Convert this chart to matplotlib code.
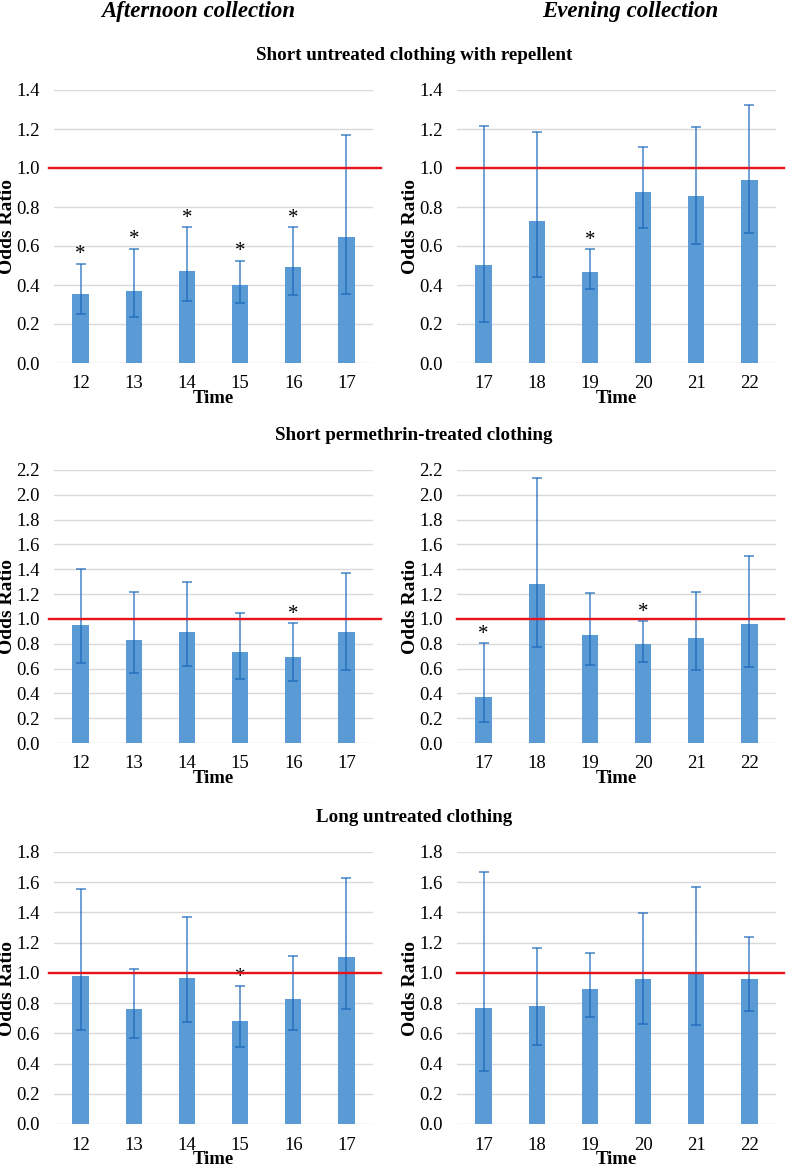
import numpy as np
import matplotlib
matplotlib.use('Agg')
import matplotlib.pyplot as plt

plt.rcParams['font.family'] = ['Liberation Serif', 'DejaVu Serif']

# hours
aft_hours = ['12', '13', '14', '15', '16', '17']
eve_hours = ['17', '18', '19', '20', '21', '22']

# short untreated clothing with repellent
aft_rep_or = [0.354, 0.371, 0.472, 0.400, 0.493, 0.644]
aft_rep_lo = [0.250, 0.236, 0.320, 0.306, 0.349, 0.354]
aft_rep_hi = [0.510, 0.587, 0.695, 0.525, 0.698, 1.171]
aft_rep_sig = [1, 1, 1, 1, 1, 0]
eve_rep_or = [0.505, 0.726, 0.467, 0.875, 0.857, 0.940]
eve_rep_lo = [0.210, 0.443, 0.378, 0.693, 0.608, 0.669]
eve_rep_hi = [1.213, 1.184, 0.585, 1.107, 1.210, 1.325]
eve_rep_sig = [0, 0, 1, 0, 0, 0]

# short permethrin-treated clothing
aft_perm_or = [0.949, 0.828, 0.898, 0.734, 0.694, 0.896]
aft_perm_lo = [0.645, 0.567, 0.624, 0.519, 0.503, 0.592]
aft_perm_hi = [1.404, 1.213, 1.294, 1.046, 0.968, 1.366]
aft_perm_sig = [0, 0, 0, 0, 1, 0]
eve_perm_or = [0.371, 1.283, 0.871, 0.799, 0.845, 0.957]
eve_perm_lo = [0.172, 0.772, 0.632, 0.654, 0.589, 0.616]
eve_perm_hi = [0.807, 2.136, 1.205, 0.984, 1.218, 1.503]
eve_perm_sig = [1, 0, 0, 1, 0, 0]

# long untreated clothing
aft_long_or = [0.980, 0.761, 0.964, 0.683, 0.826, 1.108]
aft_long_lo = [0.622, 0.571, 0.677, 0.509, 0.619, 0.760]
aft_long_hi = [1.553, 1.024, 1.373, 0.914, 1.113, 1.630]
aft_long_sig = [0, 0, 0, 1, 0, 0]
eve_long_or = [0.767, 0.780, 0.894, 0.961, 1.009, 0.961]
eve_long_lo = [0.352, 0.522, 0.707, 0.665, 0.657, 0.749]
eve_long_hi = [1.670, 1.165, 1.132, 1.395, 1.569, 1.236]
eve_long_sig = [0, 0, 0, 0, 0, 0]

row_titles = ['Short untreated clothing with repellent',
              'Short permethrin-treated clothing',
              'Long untreated clothing']
row_ymax = [1.4, 2.2, 1.8]

panels = [
    [(aft_hours, aft_rep_or, aft_rep_lo, aft_rep_hi, aft_rep_sig),
     (eve_hours, eve_rep_or, eve_rep_lo, eve_rep_hi, eve_rep_sig)],
    [(aft_hours, aft_perm_or, aft_perm_lo, aft_perm_hi, aft_perm_sig),
     (eve_hours, eve_perm_or, eve_perm_lo, eve_perm_hi, eve_perm_sig)],
    [(aft_hours, aft_long_or, aft_long_lo, aft_long_hi, aft_long_sig),
     (eve_hours, eve_long_or, eve_long_lo, eve_long_hi, eve_long_sig)],
]

W, H = 787, 1168
fig = plt.figure(figsize=(W / 100, H / 100), dpi=100)

col_left = [54, 457]
ax_w = 319
row_top = [90, 470, 852]
row_bot = [363, 743, 1124]
title_y = [55, 435, 818]

bar_color = '#5B9BD5'
err_color = '#1A66BA'

for r in range(3):
    fig.text(414 / W, 1 - title_y[r] / H, row_titles[r], ha='center', va='center',
             fontsize=13.7, fontweight='bold')
    for c in range(2):
        hours, odds, lo, hi, sig = panels[r][c]
        odds = np.array(odds); lo = np.array(lo); hi = np.array(hi)
        ax = fig.add_axes([col_left[c] / W, 1 - row_bot[r] / H,
                           ax_w / W, (row_bot[r] - row_top[r]) / H])
        x = np.arange(len(hours))
        ax.bar(x, odds, width=0.31, color=bar_color, zorder=2)
        ax.errorbar(x, odds, yerr=[odds - lo, hi - odds], fmt='none',
                    ecolor=err_color, alpha=0.8, elinewidth=1.1,
                    capsize=3.5, capthick=1.1, zorder=3)
        for i in range(len(hours)):
            if sig[i]:
                ax.annotate('*', (x[i], hi[i]), xytext=(0, 3),
                            textcoords='offset points', ha='center',
                            va='baseline', fontsize=15)
        ax.axhline(1.0, xmin=-0.016 if c == 0 else 0.0, xmax=1.025,
                   color='#E8141B', lw=1.7, clip_on=False, zorder=4)
        ymax = row_ymax[r]
        ax.set_ylim(0, ymax)
        ax.set_xlim(-0.5, len(hours) - 0.5)
        ax.set_yticks(np.round(np.arange(0, ymax + 0.001, 0.2), 1))
        ax.yaxis.set_major_formatter(matplotlib.ticker.FormatStrFormatter('%.1f'))
        ax.set_xticks(x)
        ax.set_xticklabels(hours)
        ax.grid(axis='y', color='#D9D9D9', lw=1.0, zorder=0)
        ax.set_axisbelow(True)
        for s in ax.spines.values():
            s.set_visible(False)
        ax.tick_params(length=0, labelsize=13.5)
        ax.tick_params(axis='x', pad=9)
        ax.tick_params(axis='y', pad=10)
        ax.set_ylabel('Odds Ratio', fontsize=14, fontweight='bold')
        ax.yaxis.set_label_coords(-0.12, 0.5)
        ax.set_xlabel('Time', fontsize=13.5, fontweight='bold', labelpad=-1.5)

fig.text(198 / W, 1 - 12 / H, 'Afternoon collection', ha='center', va='center',
         fontsize=16.5, fontweight='bold', style='italic')
fig.text(630 / W, 1 - 12 / H, 'Evening collection', ha='center', va='center',
         fontsize=16.5, fontweight='bold', style='italic')

fig.savefig('out.png', dpi=100)
